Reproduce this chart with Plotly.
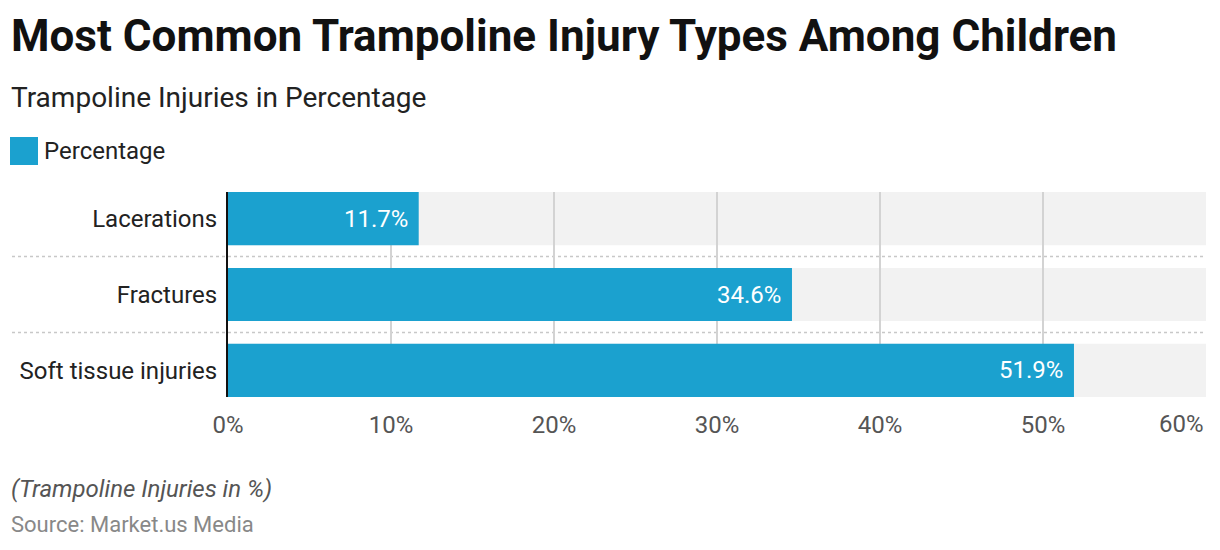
import plotly.graph_objects as go

categories = ["Lacerations", "Fractures", "Soft tissue injuries"]
values = [11.7, 34.6, 51.9]
value_labels = ["11.7%", "34.6%", "51.9%"]
tick_values = [0, 10, 20, 30, 40, 50, 60]
tick_labels = ["0%", "10%", "20%", "30%", "40%", "50%", "60%"]
axis_max = 60

BAR = "#1ba1cf"
FONT = "Roboto"
W, H = 1220, 550
L, R, T, B = 228, 14, 192, 153

fig = go.Figure()
fig.add_trace(go.Bar(
    y=categories, x=values, orientation="h", marker=dict(color=BAR, line=dict(width=0)),
    width=0.7, name="Percentage", showlegend=False, hoverinfo="x+y",
))

shapes = []
for i, c in enumerate(categories):
    shapes.append(dict(type="rect", xref="x", yref="y", x0=0, x1=axis_max,
                       y0=i - 0.35, y1=i + 0.35, fillcolor="#f2f2f2",
                       line=dict(width=0), layer="below"))
for i in range(len(categories) - 1):
    shapes.append(dict(type="line", xref="paper", yref="y",
                       x0=(12 - L) / (W - L - R), x1=1, y0=i + 0.5, y1=i + 0.5,
                       line=dict(color="#c8c8c8", width=1.5, dash="dot"), layer="below"))
# legend swatch
shapes.append(dict(type="rect", xref="paper", yref="paper",
                   x0=(10 - L) / (W - L - R), x1=(38 - L) / (W - L - R),
                   y0=(H - B - 165) / (H - T - B), y1=(H - B - 137) / (H - T - B),
                   fillcolor=BAR, line=dict(width=0)))

annotations = []
for c, v, t in zip(categories, values, value_labels):
    annotations.append(dict(x=v, y=c, xref="x", yref="y", text=t, showarrow=False,
                            xanchor="right", xshift=-9,
                            font=dict(family=FONT, size=24, color="white")))
annotations.append(dict(x=tick_values[-1], y=0, xref="x", yref="paper", text=tick_labels[-1],
                        showarrow=False, xanchor="right", yanchor="middle", yshift=-27,
                        font=dict(family=FONT, size=24, color="#555555")))

def px_y(y):
    return dict(yref="paper", y=(H - B - y) / (H - T - B))

def px_x(x):
    return (x - L) / (W - L - R)

annotations += [
    dict(xref="paper", x=px_x(9), **px_y(36), text="<b>Most Common Trampoline Injury Types Among Children</b>",
         showarrow=False, xanchor="left", yanchor="middle",
         font=dict(family=FONT, size=44, color="#111111")),
    dict(xref="paper", x=px_x(9), **px_y(97), text="Trampoline Injuries in Percentage",
         showarrow=False, xanchor="left", yanchor="middle",
         font=dict(family=FONT, size=28, color="#222222")),
    dict(xref="paper", x=px_x(42), **px_y(151), text="Percentage",
         showarrow=False, xanchor="left", yanchor="middle",
         font=dict(family=FONT, size=24, color="#222222")),
    dict(xref="paper", x=px_x(9), **px_y(489), text="<i>(Trampoline Injuries in %)</i>",
         showarrow=False, xanchor="left", yanchor="middle",
         font=dict(family=FONT, size=24, color="#555555")),
    dict(xref="paper", x=px_x(9), **px_y(524), text="Source: Market.us Media",
         showarrow=False, xanchor="left", yanchor="middle",
         font=dict(family=FONT, size=22, color="#888888")),
]

fig.update_layout(
    width=W, height=H, margin=dict(l=L, r=R, t=T, b=B),
    paper_bgcolor="white", plot_bgcolor="white",
    shapes=shapes, annotations=annotations, bargap=0.3,
    font=dict(family=FONT),
)
fig.update_xaxes(range=[0, axis_max], tickvals=tick_values,
                 ticktext=tick_labels[:-1] + [""],
                 showgrid=True, gridcolor="#d3d3d3", gridwidth=2,
                 zeroline=False, ticks="outside", ticklen=6, tickcolor="rgba(0,0,0,0)",
                 tickfont=dict(family=FONT, size=24, color="#555555"), fixedrange=True)
fig.update_yaxes(categoryorder="array", categoryarray=categories,
                 range=[len(categories) - 1 + 0.35, -0.35],
                 showline=True, linecolor="#111111", linewidth=2, showgrid=False,
                 ticks="", ticklabelstandoff=4,
                 tickfont=dict(family=FONT, size=24, color="#222222"), fixedrange=True)

fig.write_html("out.html", config={"displayModeBar": False},
               post_script="document.body.style.margin='0';document.body.style.padding='0';")
